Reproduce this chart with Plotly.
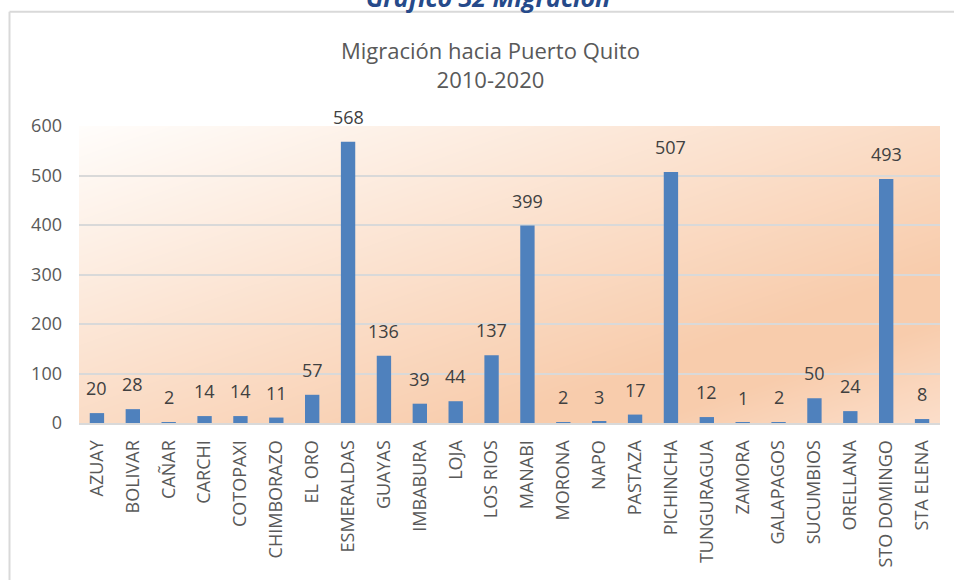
import base64
import struct
import zlib

import numpy as np
import plotly.graph_objects as go

# Provincias de origen y número de personas que migraron a Puerto Quito
provincias = [
    "AZUAY", "BOLIVAR", "CAÑAR", "CARCHI", "COTOPAXI", "CHIMBORAZO", "EL ORO",
    "ESMERALDAS", "GUAYAS", "IMBABURA", "LOJA", "LOS RIOS", "MANABI", "MORONA",
    "NAPO", "PASTAZA", "PICHINCHA", "TUNGURAGUA", "ZAMORA", "GALAPAGOS",
    "SUCUMBIOS", "ORELLANA", "STO DOMINGO", "STA ELENA",
]
migrantes = [20, 28, 2, 14, 14, 11, 57, 568, 136, 39, 44, 137, 399, 2,
             3, 17, 507, 12, 1, 2, 50, 24, 493, 8]
y_ticks = [0, 100, 200, 300, 400, 500, 600]

W, H = 954, 580
L, R, T, B = 79, 14, 126, 155
PW, PH = W - L - R, H - T - B

FONT = "Open Sans"
GRID = "#D9D9D9"


def gradient_png(w, h):
    """Diagonal light-orange gradient (top-left -> bottom-right) as a PNG data URI."""
    xs = np.linspace(0, 1, w)[None, :]
    ys = np.linspace(0, 1, h)[:, None]
    t = (xs + ys) / 2.0
    stops = [0.0, 0.74, 0.83, 1.0]
    cols = np.array([[255, 253, 251], [248, 204, 172], [248, 204, 172], [251, 222, 202]], float)
    img = np.zeros((h, w, 3))
    for c in range(3):
        img[:, :, c] = np.interp(t, stops, cols[:, c])
    img = img.round().astype(np.uint8)
    raw = b"".join(b"\x00" + img[r].tobytes() for r in range(h))

    def chunk(tag, data):
        body = tag + data
        return struct.pack(">I", len(data)) + body + struct.pack(">I", zlib.crc32(body) & 0xFFFFFFFF)

    png = b"\x89PNG\r\n\x1a\n"
    png += chunk(b"IHDR", struct.pack(">IIBBBBB", w, h, 8, 2, 0, 0, 0))
    png += chunk(b"IDAT", zlib.compress(raw, 9))
    png += chunk(b"IEND", b"")
    return "data:image/png;base64," + base64.b64encode(png).decode()


def px_x(px):
    return (px - L) / PW


def px_y(py):
    return (H - B - py) / PH


fig = go.Figure()
fig.add_trace(go.Bar(
    x=provincias,
    y=migrantes,
    marker=dict(color="#4F81BD", line=dict(width=0)),
    hoverinfo="x+y",
))

# Value labels above each bar
annotations = [
    dict(x=p, y=v, xref="x", yref="y", text=str(v), showarrow=False,
         yanchor="bottom", yshift=11, font=dict(family=FONT, size=18, color="#404040"))
    for p, v in zip(provincias, migrantes)
]

# Chart title
annotations.append(dict(
    x=px_x(490), y=px_y(32), xref="paper", yref="paper", yanchor="top", xanchor="center",
    text="Migración hacia Puerto Quito<br>2010-2020", showarrow=False,
    font=dict(family=FONT, size=22, color="#595959"),
))
# Document caption above the chart frame
annotations.append(dict(
    x=px_x(488), y=px_y(-4), xref="paper", yref="paper", yanchor="middle", xanchor="center",
    text="<b><i>Gráfico 32 Migración</i></b>", showarrow=False,
    font=dict(family=FONT, size=25, color="#264A8A"),
))

shapes = [
    # chart frame (left and top edges)
    dict(type="line", xref="paper", yref="paper", x0=px_x(9.5), x1=px_x(960),
         y0=px_y(11), y1=px_y(11), line=dict(color=GRID, width=2), layer="above"),
    dict(type="line", xref="paper", yref="paper", x0=px_x(9.5), x1=px_x(9.5),
         y0=px_y(11), y1=px_y(590), line=dict(color=GRID, width=2), layer="above"),
]

fig.update_layout(
    width=W, height=H,
    margin=dict(l=L, r=R, t=T, b=B, pad=0),
    paper_bgcolor="white",
    plot_bgcolor="white",
    bargap=0.6,
    showlegend=False,
    font=dict(family=FONT, size=18, color="#595959"),
    annotations=annotations,
    shapes=shapes,
    images=[dict(source=gradient_png(PW, PH), xref="paper", yref="paper",
                 x=0, y=1, sizex=1, sizey=1, xanchor="left", yanchor="top",
                 sizing="stretch", layer="below")],
)
fig.update_xaxes(
    type="category",
    tickangle=-90,
    showgrid=False,
    showline=True, linecolor=GRID, linewidth=2,
    ticks="", ticklabelstandoff=8,
    tickfont=dict(family=FONT, size=18, color="#595959"),
)
fig.update_yaxes(
    range=[0, 600],
    tickvals=y_ticks,
    showgrid=True, gridcolor=GRID, gridwidth=2,
    zeroline=False, showline=False,
    ticks="", ticklabelstandoff=16,
    tickfont=dict(family=FONT, size=18, color="#595959"),
)

fig.write_html("out.html")
